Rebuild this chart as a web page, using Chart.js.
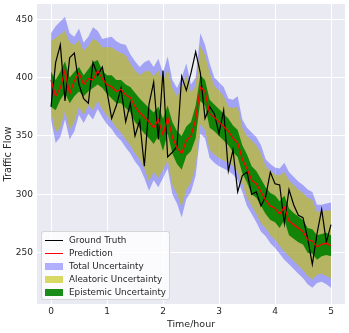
<!DOCTYPE html>
<html>
<head>
<meta charset="utf-8">
<script src="https://cdn.jsdelivr.net/npm/chart.js@4"></script>
<style>
  body { margin: 0; background: #fff; }
  #wrap { position: relative; width: 349px; height: 333px; }
  #legend {
    position: absolute; left: 41px; top: 231px; width: 129px; height: 69px;
    box-sizing: border-box; background: rgba(255,255,255,0.8);
    border: 1px solid rgba(204,204,204,0.8); border-radius: 3px;
    font-family: 'DejaVu Sans', sans-serif; font-size: 8.8px; color: #262626;
  }
  .item { position: absolute; left: 0; height: 13px; width: 100%; }
  .handle { position: absolute; left: 3px; width: 18px; }
  .label { position: absolute; left: 27px; top: 0; line-height: 13px; white-space: nowrap; }
</style>
</head>
<body>
<div id="wrap">
  <canvas id="trafficChart" width="349" height="333"></canvas>
  <div id="legend"></div>
</div>
<script>
// time stamps, minutes from start (5 min steps)
const minutes = [0, 5, 10, 15, 20, 25, 30, 35, 40, 45, 50, 55, 60, 65, 70, 75, 80, 85, 90, 95,
  100, 105, 110, 115, 120, 125, 130, 135, 140, 145, 150, 155, 160, 165, 170, 175, 180, 185, 190, 195,
  200, 205, 210, 215, 220, 225, 230, 235, 240, 245, 250, 255, 260, 265, 270, 275, 280, 285, 290, 295, 300];

const groundTruth = [375, 413, 428, 380, 417, 421, 394, 382, 378, 413, 402, 409, 388, 365, 376, 391, 362, 378, 350, 363,
  324, 377, 396, 347, 406, 332, 336, 341, 401, 389, 404, 422, 404, 365, 375, 369, 352, 372, 320, 338,
  302, 316, 319, 300, 302, 290, 298, 319, 309, 308, 275, 304, 291, 282, 280, 262, 240, 266, 287, 259, 274];

const prediction = [398, 384, 391, 406, 386, 397, 404, 394, 399, 398, 406, 399, 394, 392, 388, 390, 385, 383, 375, 370,
  366, 362, 357, 364, 351, 366, 349, 340, 335, 346, 350, 364, 392, 388, 369, 366, 362, 358, 354, 348,
  344, 330, 322, 312, 309, 302, 295, 290, 288, 283, 289, 277, 274, 271, 268, 261, 260, 255, 257, 258, 256];

const totalUpper = [438, 444, 448, 452, 438, 435, 442, 430, 435, 443, 440, 433, 434, 435, 431, 429, 428, 420, 414, 409,
  413, 415, 409, 416, 404, 418, 398, 391, 400, 412, 394, 400, 438, 428, 412, 400, 396, 392, 382, 381,
  384, 364, 357, 353, 349, 342, 330, 326, 323, 322, 327, 319, 315, 311, 308, 304, 302, 291, 291, 292, 293];
const totalLower = [364, 344, 349, 364, 347, 354, 368, 361, 369, 364, 373, 366, 360, 356, 350, 346, 340, 335, 328, 323,
  314, 303, 312, 306, 314, 322, 300, 292, 280, 296, 302, 316, 352, 348, 331, 327, 324, 322, 320, 317,
  312, 302, 290, 283, 276, 268, 264, 258, 254, 249, 244, 240, 236, 232, 228, 223, 220, 224, 225, 223, 220];

const aleatoricUpper = [431, 434, 437, 440, 430, 428, 432, 423, 427, 433, 431, 426, 426, 426, 423, 421, 419, 412, 406, 402,
  405, 406, 401, 406, 397, 407, 391, 384, 392, 402, 387, 393, 427, 419, 404, 393, 389, 384, 375, 374,
  375, 357, 350, 346, 342, 335, 324, 320, 317, 316, 319, 312, 308, 304, 301, 297, 295, 285, 285, 286, 286];
const aleatoricLower = [371, 353, 357, 371, 355, 362, 375, 368, 376, 372, 380, 373, 367, 363, 357, 353, 347, 342, 335, 330,
  322, 311, 319, 314, 321, 329, 308, 300, 289, 304, 310, 324, 360, 355, 338, 334, 331, 329, 327, 324,
  319, 309, 297, 290, 283, 275, 271, 265, 261, 256, 251, 247, 243, 239, 235, 230, 227, 231, 232, 230, 228];

const epistemicUpper = [405, 398, 405, 414, 400, 405, 409, 402, 407, 413, 415, 406, 402, 402, 398, 398, 394, 392, 387, 382,
  378, 374, 370, 375, 365, 376, 362, 354, 350, 358, 362, 376, 402, 398, 381, 377, 373, 369, 365, 359,
  355, 342, 334, 324, 320, 313, 306, 301, 299, 294, 299, 288, 284, 281, 278, 271, 270, 265, 266, 267, 265];
const epistemicLower = [375, 372, 381, 387, 378, 384, 388, 384, 388, 391, 394, 391, 386, 382, 378, 378, 374, 370, 362, 357,
  352, 348, 343, 350, 337, 352, 335, 326, 321, 333, 337, 348, 380, 376, 357, 354, 350, 346, 342, 336,
  332, 318, 310, 300, 297, 290, 283, 278, 276, 271, 278, 265, 262, 259, 257, 250, 249, 244, 247, 248, 247];

const xTicks = [0, 1, 2, 3, 4, 5];
const yTicks = [250, 300, 350, 400, 450];

const toPoints = vals => vals.map((v, i) => ({ x: minutes[i] / 60, y: v }));

const textColor = '#262626';
const fontFamily = "'DejaVu Sans', sans-serif";

// grey plot background like seaborn darkgrid
const plotBg = {
    id: 'plotBg',
    beforeDraw(chart) {
        const { ctx, chartArea: a } = chart;
        ctx.save();
        ctx.fillStyle = '#EAEAF2';
        ctx.fillRect(a.left, a.top, a.right - a.left, a.bottom - a.top);
        ctx.restore();
    }
};

const band = (vals, fillTarget, color, order) => ({
    data: toPoints(vals),
    borderWidth: 0,
    borderColor: 'transparent',
    backgroundColor: color,
    pointRadius: 0,
    fill: fillTarget === null ? false : fillTarget,
    order: order
});

new Chart(document.getElementById('trafficChart'), {
    type: 'line',
    data: {
        datasets: [
            { label: 'Prediction', data: toPoints(prediction), borderColor: '#ff0000', borderWidth: 1.3, pointRadius: 0, fill: false, order: 0 },
            { label: 'Ground Truth', data: toPoints(groundTruth), borderColor: '#000000', borderWidth: 1.2, pointRadius: 0, fill: false, order: 1 },
            band(epistemicUpper, 3, 'rgba(0,128,0,0.9)', 2),
            band(epistemicLower, null, 'transparent', 2),
            band(aleatoricUpper, 5, 'rgba(191,191,0,0.6)', 4),
            band(aleatoricLower, null, 'transparent', 4),
            band(totalUpper, 7, 'rgba(0,0,255,0.3)', 6),
            band(totalLower, null, 'transparent', 6)
        ]
    },
    options: {
        responsive: false,
        animation: false,
        devicePixelRatio: 1,
        layout: { padding: { top: 4, right: 4, left: 0, bottom: 0 } },
        plugins: { legend: { display: false }, tooltip: { enabled: false } },
        elements: { line: { tension: 0 } },
        scales: {
            x: {
                type: 'linear',
                min: -0.25,
                max: 5.25,
                afterBuildTicks: s => { s.ticks = xTicks.map(v => ({ value: v })); },
                afterFit: s => { s.height = 29; s.paddingLeft = 0; s.paddingRight = 0; },
                border: { display: false },
                grid: { color: '#ffffff', lineWidth: 1, drawTicks: false },
                ticks: { color: textColor, font: { family: fontFamily, size: 9 }, padding: 2, maxRotation: 0 },
                title: { display: true, text: 'Time/hour', color: textColor, font: { family: fontFamily, size: 9.5 }, padding: { top: 0, bottom: 3 } }
            },
            y: {
                min: 206,
                max: 463,
                afterBuildTicks: s => { s.ticks = yTicks.map(v => ({ value: v })); },
                afterFit: s => { s.width = 37; s.paddingTop = 0; s.paddingBottom = 0; },
                border: { display: false },
                grid: { color: '#ffffff', lineWidth: 1, drawTicks: false },
                ticks: { color: textColor, font: { family: fontFamily, size: 9 }, padding: 4 },
                title: { display: true, text: 'Traffic Flow', color: textColor, font: { family: fontFamily, size: 9.8 }, padding: { top: 2.5, bottom: 0 } }
            }
        }
    },
    plugins: [plotBg]
});

// legend drawn inside the plot, lower left
const legendLabels = ['Ground Truth', 'Prediction', 'Total Uncertainty', 'Aleatoric Uncertainty', 'Epistemic Uncertainty'];
const legendKinds = ['line', 'line', 'patch', 'patch', 'patch'];
const legendColors = ['#000000', '#ff0000', 'rgba(0,0,255,0.3)', 'rgba(191,191,0,0.6)', 'rgba(0,128,0,0.9)'];

const legend = document.getElementById('legend');
legendLabels.forEach((text, k) => {
    const row = document.createElement('div');
    row.className = 'item';
    row.style.top = (2 + 13 * k) + 'px';
    const h = document.createElement('div');
    h.className = 'handle';
    if (legendKinds[k] === 'line') {
        h.style.top = '6px';
        h.style.height = '1px';
    } else {
        h.style.top = '3px';
        h.style.height = '7px';
    }
    h.style.background = legendColors[k];
    const lab = document.createElement('span');
    lab.className = 'label';
    lab.textContent = text;
    row.appendChild(h);
    row.appendChild(lab);
    legend.appendChild(row);
});
</script>
</body>
</html>
